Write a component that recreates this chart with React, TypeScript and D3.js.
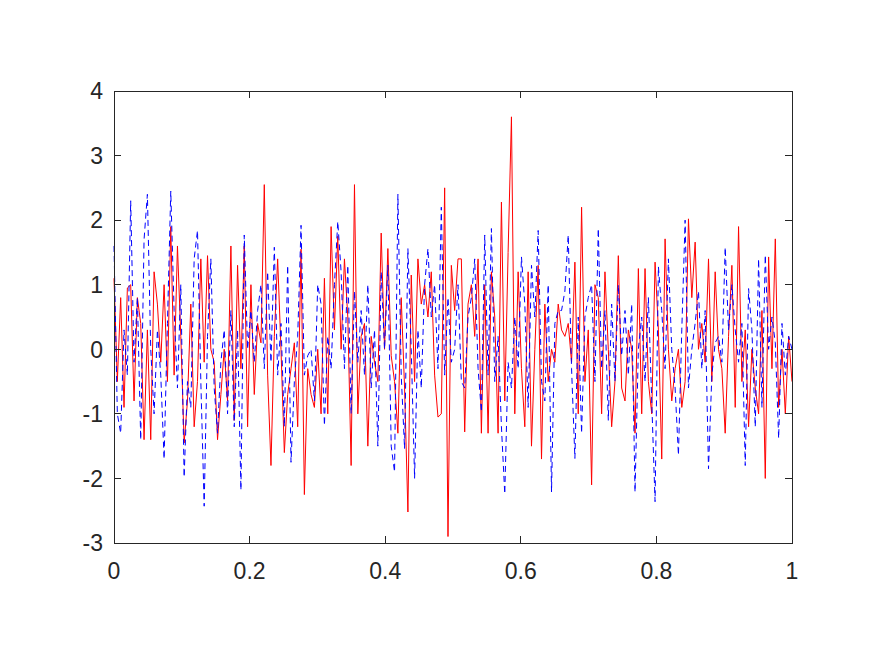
import * as d3 from "d3";

// two noisy series
const redSeries: number[] = [
  1.1, -0.5, 0.8, -0.9, 0.95, 1.0, -0.8, 0.8, 0.4, -1.4, 0.3, -1.4, 1.2, 0.7, -0.2, 1.0, -0.5, 1.9,
  -0.4, 1.6, 0.2, -1.45, -0.8, 0.7, -1.2, -0.5, 1.4, -0.2, 1.45, 0.0, -0.2, -1.4, -0.7, 0.0, -0.8,
  1.6, -1.1, 1.3, -0.3, 1.6, -1.2, 1.0, -0.7, 0.4, 0.1, 2.55, -0.4, -1.8, 0.2, 1.4, 0.0, -1.6,
  -0.7, -0.3, 0.1, -1.2, 1.55, -2.25, -0.3, -0.7, -0.9, 0.0, -1.0, 1.1, -1.0, 1.9, 0.3, 1.75, 0.0,
  1.4, 0.5, -1.8, 2.55, -1.0, 0.2, 0.4, -1.5, 0.2, -0.2, -0.5, 1.8, 0.0, 1.56, -0.1, -0.5, -1.3,
  0.8, -0.6, -2.52, 1.15, -0.5, 1.4, 0.7, 1.0, 0.5, 1.2, -0.4, -1.05, -1.0, 2.5, -2.9,
  1.3, 0.6, 1.4, 1.4, -1.28, 0.7, 1.0, 0.2, 1.4, -1.3, 1.0, -1.3, 1.2, 0.5, -1.3, 2.28, -0.8, 1.5,
  3.6, -1.0, 1.2, -0.3, -1.2, 1.2, -1.5, 0.0, 1.3, -1.7, 0.7, -0.5, 0.0, -0.2, 0.7, 0.3, 0.2,
  0.4, -0.2, 1.35, -1.0, 2.2, -0.5, 0.3, -2.1, 1.0, 0.8, -1.0, 1.2, 0.0, -1.2, -0.5, 1.45, -0.6,
  -0.8, 0.3, 0.0, -1.3, 1.25, -1.0, 1.25, -0.5, -1.0, 1.35, 0.3, -1.7, 1.71,
  0.0, -0.8, -0.3, 0.0, -0.9, -0.5, 2.02, 0.8, 1.66, 0.0, 0.4, -0.2, 1.4, -0.5, 1.2, 0.0, -0.3, -1.3,
  0.2, 1.3, -0.9, 1.9, -0.5, 0.3, -1.2, 0.0, -0.6, -1.0, 0.6, -2.0, 1.43, -0.3, 1.71, -0.9, 0.0, -1.0, 0.2, -0.5,
];

const blueSeries: number[] = [
  1.6, -1.0, -1.3, 0.3, -0.4, 2.3, -0.2, 0.8, -1.4, 1.7, 2.4, 0.0, -1.0, 0.3, -0.4, -1.7,
  0.4, 2.45, 0.6, -0.6, 1.0, -1.98, -0.5, -0.9, 1.4, 1.84, -0.5, -2.43, 0.2, 1.4, -0.6, -1.3, -0.2, 0.3,
  -1.0, 0.6, -1.2, 0.3, -2.18, 1.77, 0.0, 0.6, -0.2, 0.6, 1.0, -0.3, 1.2, -0.2, 1.58, -0.4, 0.4, -1.2,
  1.3, -1.75, -0.5, 0.2, 1.92, -0.4, -0.1, 0.0, -0.8, 1.0, 0.7, -1.18, 0.2, -0.3, 1.0, 1.98,
  1.2, -0.3, 1.3, -1.0, 0.9, -0.2, 0.6, -0.4, 1.0, -0.6, 0.3, -1.5, 1.2, 0.0, 1.3, -1.5, -1.9, 2.4,
  -0.4, -1.54, 1.56, 0.0, -2.0, 0.3, -0.6, 1.0, 1.56, 0.5, 1.0, -0.3, 2.2, -0.4, 0.8, -0.2,
  0.0, 1.0, -0.5, -0.6, 0.5, 0.8, 1.4, -0.3, -0.97, 1.77, -0.4, 1.87, -0.5, 0.2, -1.2, -2.24,
  -0.2, -0.6, 0.5, -0.3, 1.43, 0.7, -0.9, 1.3, 0.5, 1.84, -0.5, -0.8, 1.0, -2.21, 0.4, 0.6, 0.6,
  0.9, 1.77, -0.3, -1.69, 0.5, -1.3, 0.5, 0.8, 1.0, -0.5, 1.87, -0.3, 0.6, -1.1, 0.7, -0.5, 1.0,
  -0.1, 0.6, -0.4, 0.7, -2.21, 0.0, 0.5, -0.5, 0.8, -0.8, -2.36, 1.28, 0.6, -0.3, 1.4, 0.0, -0.6,
  -1.64, 0.3, 2.0, -0.6, 0.0, 0.4, 0.9, -0.3, 0.6, -1.85, -0.4, 0.1, 0.2, -0.2, 1.58, 0.3, 1.0,
  0.3, -0.2, 0.4, -1.8, 0.94, 0.3, -1.2, 1.4, -0.9, 1.46, 0.0, 0.5, 0.1, -1.38, 0.4, -0.4, 0.2, 0.0,
];

const xTicks = [0, 0.2, 0.4, 0.6, 0.8, 1];
const yTicks = [-3, -2, -1, 0, 1, 2, 3, 4];

const W = 875;
const H = 657;
const margin = { top: 91, right: 83, bottom: 114, left: 114 };
const axisColor = "#262626";
const font = "'Liberation Sans', Arial, Helvetica, sans-serif";

export default function App() {
  const innerW = W - margin.left - margin.right;
  const innerH = H - margin.top - margin.bottom;

  const x = d3.scaleLinear().domain([0, 1]).range([0, innerW]);
  const y = d3.scaleLinear().domain([-3, 4]).range([innerH, 0]);

  const line = d3
    .line<number>()
    .x((_, i, arr) => x(i / (arr.length - 1)))
    .y((d) => y(d));

  const tickLen = 7;

  return (
    <svg
      width={W}
      height={H}
      style={{ position: "absolute", left: 0, top: 0, background: "#fff" }}
    >
      <g transform={`translate(${margin.left},${margin.top})`}>
        <path d={line(redSeries) ?? ""} fill="none" stroke="#ff0000" strokeWidth={1} />
        <path
          d={line(blueSeries) ?? ""}
          fill="none"
          stroke="#0000ff"
          strokeWidth={1}
          strokeDasharray="6,4"
        />

        <rect
          x={0}
          y={0}
          width={innerW}
          height={innerH}
          fill="none"
          stroke={axisColor}
          strokeWidth={1}
          shapeRendering="crispEdges"
        />

        {xTicks.map((t) => (
          <g key={`x${t}`}>
            <line x1={x(t)} x2={x(t)} y1={innerH} y2={innerH - tickLen} stroke={axisColor} shapeRendering="crispEdges" />
            <line x1={x(t)} x2={x(t)} y1={0} y2={tickLen} stroke={axisColor} shapeRendering="crispEdges" />
            <text
              x={x(t)}
              y={innerH + 36}
              textAnchor="middle"
              fontFamily={font}
              fontSize={23}
              fill={axisColor}
            >
              {t}
            </text>
          </g>
        ))}

        {yTicks.map((t) => (
          <g key={`y${t}`}>
            <line x1={0} x2={tickLen} y1={y(t)} y2={y(t)} stroke={axisColor} shapeRendering="crispEdges" />
            <line x1={innerW} x2={innerW - tickLen} y1={y(t)} y2={y(t)} stroke={axisColor} shapeRendering="crispEdges" />
            <text
              x={-11}
              y={y(t)}
              dy="0.36em"
              textAnchor="end"
              fontFamily={font}
              fontSize={23}
              fill={axisColor}
            >
              {t}
            </text>
          </g>
        ))}
      </g>
    </svg>
  );
}
